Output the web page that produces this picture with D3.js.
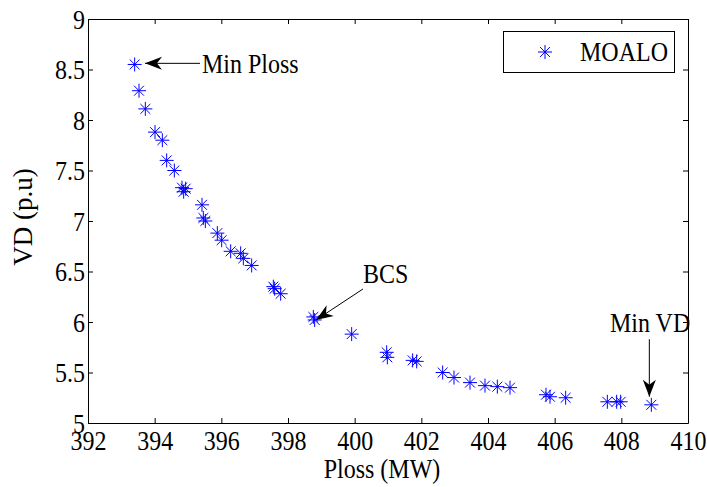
<!DOCTYPE html>
<html>
<head>
<meta charset="utf-8">
<script src="https://cdn.jsdelivr.net/npm/d3@7/dist/d3.min.js"></script>
<style>
  html, body { margin: 0; padding: 0; background: #fff; }
  svg { display: block; }
  text { font-family: "Liberation Serif", "Times New Roman", serif; fill: #000; }
</style>
</head>
<body>
<svg id="chart" width="707" height="487"></svg>
<script>
// ---- data ----
const ploss = [393.40, 393.53, 393.72, 394.01, 394.23, 394.36, 394.59, 394.82, 394.87, 394.93,
               395.42, 395.46, 395.52, 395.88, 396.01, 396.28, 396.58, 396.66, 396.91, 397.56,
               397.60, 397.78, 398.76, 398.80, 399.91, 400.96, 400.98, 401.74, 401.86, 402.64,
               402.98, 403.46, 403.91, 404.28, 404.66, 405.74, 405.86, 406.33, 407.58, 407.86,
               407.98, 408.90];
const vd    = [8.55, 8.29, 8.11, 7.88, 7.80, 7.60, 7.50, 7.33, 7.29, 7.32,
               7.16, 7.03, 7.00, 6.88, 6.81, 6.70, 6.68, 6.63, 6.56, 6.35,
               6.33, 6.28, 6.05, 6.02, 5.88, 5.70, 5.65, 5.62, 5.61, 5.50,
               5.45, 5.40, 5.37, 5.36, 5.35, 5.28, 5.26, 5.25, 5.21, 5.21,
               5.21, 5.18];
const xTicks = [392, 394, 396, 398, 400, 402, 404, 406, 408, 410];
const yTicks = [5, 5.5, 6, 6.5, 7, 7.5, 8, 8.5, 9];
const seriesName = "MOALO";
const xLabel = "Ploss (MW)";
const yLabel = "VD (p.u)";
// annotations in data coordinates
const annoText  = ["Min Ploss", "BCS", "Min VD"];
const annoTipX  = [393.71, 398.84, 408.84];
const annoTipY  = [8.561, 6.02, 5.26];
const annoTailX = [395.36, 400.25, 408.84];
const annoTailY = [8.561, 6.327, 5.83];
const annoTxtX  = [395.42, 400.25, 407.66];
const annoTxtY  = [8.47, 6.386, 5.904];

// ---- layout ----
const svg = d3.select("#chart");
const L = 88, R = 688, T = 19, B = 423;
const x = d3.scaleLinear().domain([392, 410]).range([L, R]);
const y = d3.scaleLinear().domain([5, 9]).range([B, T]);
const blue = "#0000ff";
const SY = 1.12; // vertical glyph stretch seen in the reference

svg.append("rect").attr("width", 707).attr("height", 487).attr("fill", "#fff");

// axes (ticks inward, MATLAB box style)
const fmt = d => String(d);
const gB = svg.append("g").attr("transform", `translate(0,${B})`)
  .call(d3.axisBottom(x).tickValues(xTicks).tickFormat(fmt).tickSize(-5).tickSizeOuter(0));
gB.selectAll("text").attr("y", 27 / SY).attr("dy", null).attr("transform", `scale(1,${SY})`);
const gT = svg.append("g").attr("transform", `translate(0,${T})`)
  .call(d3.axisTop(x).tickValues(xTicks).tickFormat("").tickSize(-5).tickSizeOuter(0));
const gL = svg.append("g").attr("transform", `translate(${L},0)`)
  .call(d3.axisLeft(y).tickValues(yTicks).tickFormat(fmt).tickSize(-5).tickSizeOuter(0));
gL.selectAll("text").attr("x", -3).attr("dy", "0.34em").attr("transform", `scale(1,${SY})`);
const gR = svg.append("g").attr("transform", `translate(${R},0)`)
  .call(d3.axisRight(y).tickValues(yTicks).tickFormat("").tickSize(-5).tickSizeOuter(0));

[gB, gT, gL, gR].forEach(g => {
  g.attr("font-family", "Liberation Serif").attr("font-size", 24);
  g.selectAll("text").attr("font-size", 24).attr("font-family", "Liberation Serif").attr("fill", "#000");
  g.selectAll("line").attr("stroke", "#000").attr("stroke-width", 1);
  g.select(".domain").attr("stroke", "#000").attr("stroke-width", 1);
});

// helper for stretched horizontal text
function sText(parent, tx, ty, str, anchor) {
  return parent.append("text")
    .attr("transform", `translate(${tx},${ty}) scale(1,${SY})`)
    .attr("text-anchor", anchor || "start")
    .attr("font-size", 24).text(str);
}

// axis labels
sText(svg, 382, 478, xLabel, "middle");
svg.append("text").attr("transform", `translate(32,${(T + B) / 2 - 4}) rotate(-90)`)
  .attr("text-anchor", "middle").attr("font-size", 27).text(yLabel);

// asterisk marker
function starPath(r) {
  const d = r * Math.SQRT1_2;
  return `M${-r},0L${r},0M0,${-r}L0,${r}M${-d},${-d}L${d},${d}M${-d},${d}L${d},${-d}`;
}
const pts = ploss.map((p, i) => [p, vd[i]]);
svg.append("g").selectAll("path").data(pts).join("path")
  .attr("transform", d => `translate(${x(d[0])},${y(d[1])})`)
  .attr("d", starPath(7))
  .attr("fill", "none").attr("stroke", blue).attr("stroke-width", 1);

// annotations
function arrowHead(tx, ty, sx, sy, len, w) {
  const dx = sx - tx, dy = sy - ty, m = Math.hypot(dx, dy);
  const ux = dx / m, uy = dy / m, nx = -uy, ny = ux;
  const bx = tx + ux * len, by = ty + uy * len;
  const cx = tx + ux * len * 0.7, cy = ty + uy * len * 0.7;
  return `M${tx},${ty}L${bx + nx * w},${by + ny * w}L${cx},${cy}L${bx - nx * w},${by - ny * w}Z`;
}
const ga = svg.append("g");
annoText.forEach((t, i) => {
  const tx = x(annoTipX[i]), ty = y(annoTipY[i]);
  const sx = x(annoTailX[i]), sy = y(annoTailY[i]);
  ga.append("line").attr("x1", sx).attr("y1", sy).attr("x2", tx).attr("y2", ty)
    .attr("stroke", "#000").attr("stroke-width", 1);
  ga.append("path").attr("d", arrowHead(tx, ty, sx, sy, 17, 6.5)).attr("fill", "#000");
  sText(ga, x(annoTxtX[i]), y(annoTxtY[i]), t);
});

// legend
const lg = svg.append("g");
lg.append("rect").attr("x", 503.5).attr("y", 31.5).attr("width", 171).attr("height", 41)
  .attr("fill", "#fff").attr("stroke", "#000").attr("stroke-width", 1);
lg.append("path").attr("transform", "translate(545,52)").attr("d", starPath(7))
  .attr("fill", "none").attr("stroke", blue).attr("stroke-width", 1);
sText(lg, 580, 61, seriesName);
</script>
</body>
</html>
